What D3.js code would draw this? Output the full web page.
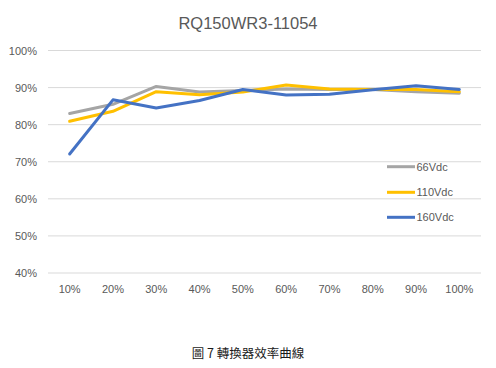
<!DOCTYPE html>
<html><head><meta charset="utf-8">
<script src="https://cdn.jsdelivr.net/npm/d3@7"></script>
<style>body{margin:0;background:#fff}svg{display:block}</style>
</head><body>
<svg id="c" width="496" height="368"></svg>
<script>
const categories = ["10%","20%","30%","40%","50%","60%","70%","80%","90%","100%"];
const v66  = [83.0, 85.5, 90.3, 88.8, 89.2, 89.6, 89.5, 89.5, 88.9, 88.5];
const v110 = [80.9, 83.6, 88.9, 88.1, 88.8, 90.7, 89.6, 89.5, 89.5, 88.9];
const v160 = [72.1, 86.7, 84.5, 86.5, 89.5, 88.0, 88.2, 89.4, 90.5, 89.5];
const seriesNames = ["66Vdc","110Vdc","160Vdc"];
const yTicks = [40,50,60,70,80,90,100];
const title = "RQ150WR3-11054";
const caption = "圖 7 轉換器效率曲線";

const colors = ["#A5A5A5","#FFC000","#4472C4"];
const series = [v66, v110, v160];
const svg = d3.select("#c");
const font = "'Liberation Sans', Arial, sans-serif";

const x = d3.scaleBand().domain(categories).range([48, 481]);
const y = d3.scaleLinear().domain([40, 100]).range([273, 50.5]);

// gridlines
svg.append("g").selectAll("line").data(yTicks).join("line")
  .attr("x1", 48).attr("x2", 481)
  .attr("y1", d => y(d)).attr("y2", d => y(d))
  .attr("stroke", "#D9D9D9").attr("stroke-width", 1);

// y labels
svg.append("g").selectAll("text").data(yTicks).join("text")
  .attr("x", 37).attr("y", d => y(d) + 4)
  .attr("text-anchor", "end")
  .attr("font-family", font).attr("font-size", 11).attr("fill", "#595959")
  .text(d => d + "%");

// x labels
svg.append("g").selectAll("text").data(categories).join("text")
  .attr("x", d => x(d) + x.bandwidth() / 2).attr("y", 293)
  .attr("text-anchor", "middle")
  .attr("font-family", font).attr("font-size", 11).attr("fill", "#595959")
  .text(d => d);

// lines
const line = d3.line()
  .x((d, i) => x(categories[i]) + x.bandwidth() / 2)
  .y(d => y(d));
series.forEach((s, k) => {
  svg.append("path").datum(s)
    .attr("d", line)
    .attr("fill", "none")
    .attr("stroke", colors[k])
    .attr("stroke-width", 3)
    .attr("stroke-linejoin", "round")
    .attr("stroke-linecap", "round");
});

// legend
const legY = [166.7, 192.3, 217.3];
seriesNames.forEach((n, k) => {
  svg.append("line")
    .attr("x1", 387).attr("x2", 415)
    .attr("y1", legY[k]).attr("y2", legY[k])
    .attr("stroke", colors[k]).attr("stroke-width", 3);
  svg.append("text")
    .attr("x", 416.5).attr("y", legY[k] + 4)
    .attr("font-family", font).attr("font-size", 11).attr("fill", "#595959")
    .text(n);
});

// title
svg.append("text")
  .attr("x", 248).attr("y", 28.5)
  .attr("text-anchor", "middle")
  .attr("font-family", font).attr("font-size", 16.5).attr("fill", "#595959")
  .text(title);

// caption
svg.append("text")
  .attr("x", 248).attr("y", 357.5)
  .attr("text-anchor", "middle")
  .attr("font-family", "'Noto Sans CJK TC', sans-serif").attr("font-size", 12.5).attr("fill", "#1a1a1a")
  .text(caption);
</script>
</body></html>
